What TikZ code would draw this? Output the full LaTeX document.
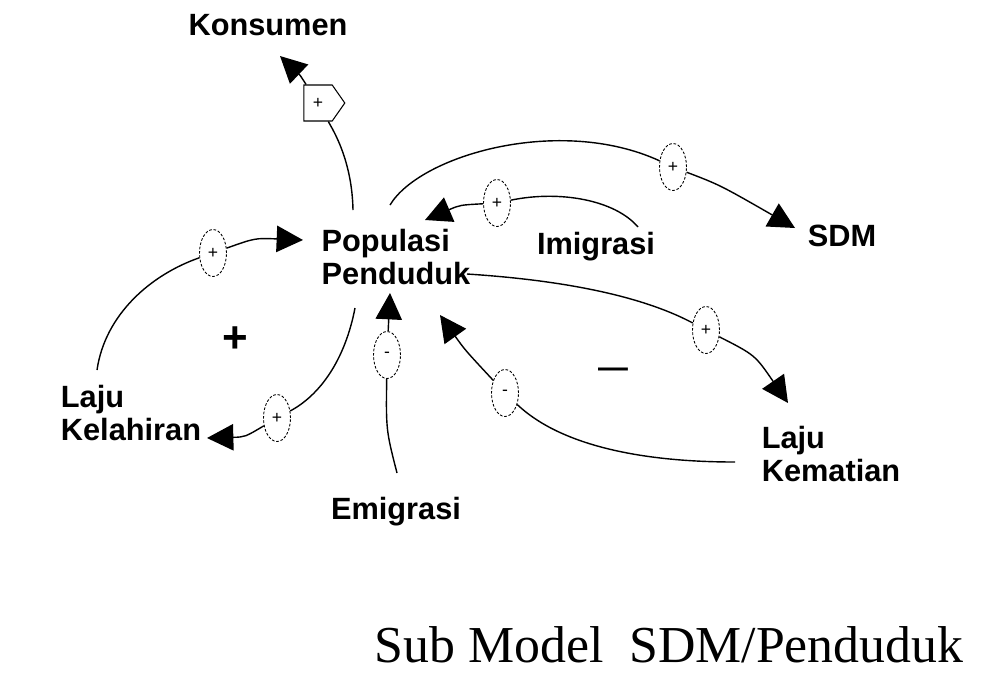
\documentclass[tikz,border=0pt]{standalone}
\usepackage{fontspec}
\setmainfont{Liberation Serif}
\newfontfamily\lblfont{Liberation Sans}
\usetikzlibrary{arrows.meta,shapes.geometric,shapes.symbols}

\begin{document}
\begin{tikzpicture}[x=0.02cm,y=-0.02cm,
  lbl/.style={font=\lblfont\bfseries\fontsize{17.5}{19}\selectfont,align=left,inner sep=0pt},
  pol/.style={draw,ellipse,dash pattern=on 1.5pt off 1pt,line width=0.5pt,fill=white,
    minimum width=0.54cm,minimum height=0.94cm,inner sep=0pt,font=\lblfont\fontsize{10}{10}\selectfont},
  link/.style={line width=0.8pt},
  arr/.style={link,-{Triangle[length=15pt,width=15pt]}}]
\useasboundingbox (0,0) rectangle (999,684);

\node[lbl] (kons) at (268,25) {Konsumen};
\node[lbl] (pop) at (396,257) {Populasi\\Penduduk};
\node[lbl] (imi) at (596,247) {Imigrasi};
\node[lbl] (sdm) at (842,236) {SDM};
\node[lbl] (lhr) at (131,413) {Laju\\Kelahiran};
\node[lbl] (emi) at (396,512) {Emigrasi};
\node[lbl] (kem) at (831,454) {Laju\\Kematian};

\node[draw,fill=white,signal,signal to=east,signal pointer angle=110,line width=0.6pt,
  minimum width=0.82cm,minimum height=0.72cm,inner sep=0pt,text depth=0pt,
  font=\lblfont\fontsize{10}{10}\selectfont] (mk) at (318,103) {+\hspace{6pt}};
\node[pol] (e1) at (673,167) {+};
\node[pol] (e2) at (497,203) {+};
\node[pol] (e3) at (213,253) {+};
\node[pol] (e4) at (277,418) {+};
\node[pol] (e5) at (387,355) {-};
\node[pol] (e6) at (706,330) {+};
\node[pol] (e7) at (505,393) {-};

\node[font=\lblfont\bfseries\fontsize{25}{25}\selectfont] (pl) at (235,340) {+};
\node[font=\lblfont\bfseries\fontsize{17}{17}\selectfont] (mn) at (613,373) {—};
\node (cap) at (669,645) {\fontsize{29.5}{32}\selectfont Sub Model\ \ SDM/Penduduk};

\draw[link] ([shift={(-43,-47)}]pop.center) .. controls (352,160) and (333,130) .. (mk);
\draw[arr] (mk) .. controls (300,75) .. ([shift={(12,31)}]kons.center);
\draw[link] ([shift={(-6,-52)}]pop.center) .. controls (420,155) and (560,115) .. (e1);
\draw[arr] (e1) .. controls (720,185) .. ([shift={(-47,-8)}]sdm.center);
\draw[link] ([shift={(42,-20)}]imi.center) .. controls (615,200) and (560,190) .. (e2);
\draw[arr] (e2) .. controls (460,205) .. ([shift={(29,-37)}]pop.center);
\draw[link] ([shift={(-34,-43)}]lhr.center) .. controls (105,315) and (150,275) .. (e3);
\draw[arr] (e3) .. controls (255,238) .. ([shift={(-93,-17)}]pop.center);
\draw[link] ([shift={(-41,51)}]pop.center) .. controls (345,360) and (320,395) .. (e4);
\draw[arr] (e4) .. controls (245,437) .. ([shift={(76,25)}]lhr.center);
\draw[link] ([shift={(1,-39)}]emi.center) .. controls (386,430) .. (e5);
\draw[arr] (e5) -- ([shift={(-6,36)}]pop.center);
\draw[link] ([shift={(71,17)}]pop.center) .. controls (560,280) and (640,295) .. (e6);
\draw[arr] (e6) .. controls (755,355) .. ([shift={(-43,-51)}]kem.center);
\draw[link] ([shift={(-96,8)}]kem.center) .. controls (640,462) and (560,445) .. (e7);
\draw[arr] (e7) .. controls (465,350) .. ([shift={(44,58)}]pop.center);
\end{tikzpicture}
\end{document}
